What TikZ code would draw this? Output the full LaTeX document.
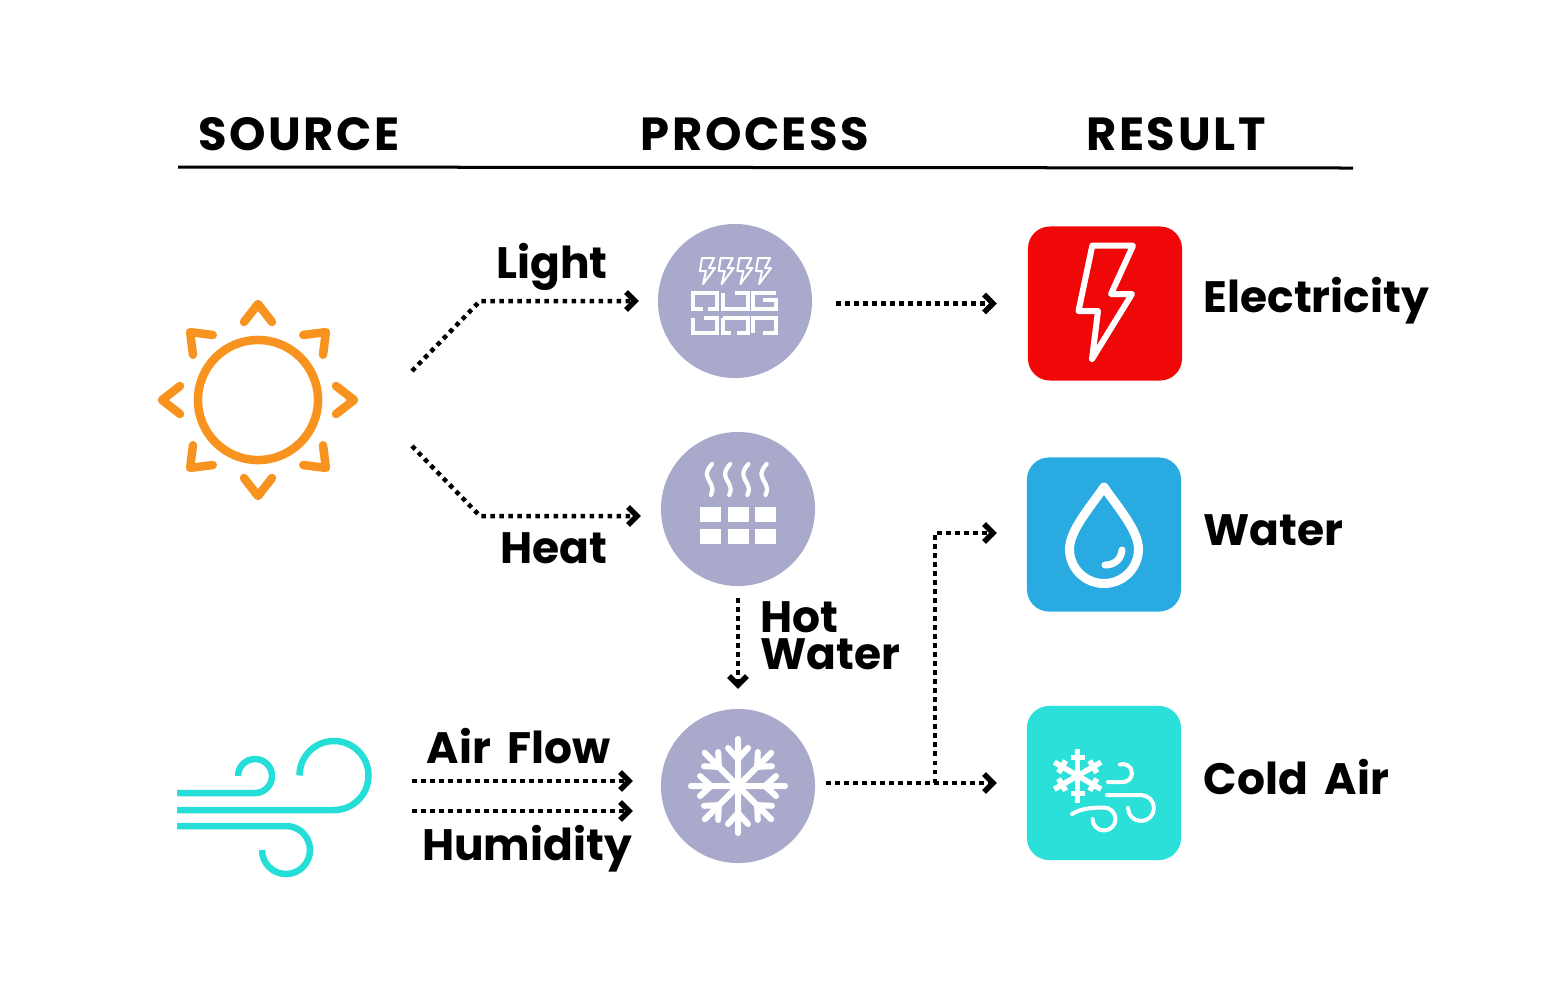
\documentclass[tikz,border=0pt]{standalone}
\usepackage{fontspec}
\setmainfont{Poppins}[WordSpace=1.8]
\newfontfamily\headfont{Poppins}[LetterSpace=5.5]
\usepackage{xcolor}
\usetikzlibrary{arrows.meta, positioning, calc}
\definecolor{procgray}{RGB}{169,170,203}
\definecolor{sunorange}{RGB}{247,147,30}
\definecolor{windteal}{RGB}{38,222,216}
\definecolor{elecred}{RGB}{240,8,8}
\definecolor{waterblue}{RGB}{41,171,226}
\definecolor{airteal}{RGB}{43,224,217}

\begin{document}
\begin{tikzpicture}[
  x=0.01cm, y=-0.01cm,
  font=\fontsize{12.5pt}{10.5pt}\selectfont\bfseries,
  every node/.style={align=left},
  proc/.style={circle, fill=procgray, minimum size=1.54cm, inner sep=0pt, outer sep=0pt},
  res/.style={rounded corners=0.22cm, fill=#1, minimum size=1.54cm, inner sep=0pt, outer sep=0pt},
  arr/.style={-{Straight Barb[length=0.09cm, width=0.18cm, line width=0.055cm]},
              line width=0.045cm, dash pattern=on 0.045cm off 0.045cm},
  head/.style={anchor=base, inner sep=0pt, font=\fontsize{13.2pt}{13.2pt}\headfont\bfseries},
  lbl/.style={anchor=base, inner sep=0pt},
  rlbl/.style={anchor=base west, inner sep=0pt},
  icon/.style={draw=white, line cap=round, line join=round, line width=#1},
  ray/.style={draw=sunorange, line width=0.085cm, line cap=round, line join=round},
  gust/.style={draw=windteal, line width=0.065cm},
]
\useasboundingbox (0,0) rectangle (1541,996);

%% Column headers
\node[head] (srchead)  at (299,150) {SOURCE};
\node[head] (prochead) at (755,150) {PROCESS};
\node[head] (reshead)  at (1176,150) {RESULT};
\draw[line width=0.03cm] (178,167) -- (1353,168);

%% Sources
\node[circle, draw=sunorange, line width=0.085cm, minimum size=1.2cm,
      inner sep=0pt, outer sep=0pt] (sun) at (258,400) {};
\foreach \a in {0,45,...,315}
  \draw[ray, shift={(258,400)}, rotate=\a] (78,-14) -- (96,0) -- (78,14);

\draw[gust] (177,793) -- (255,793) arc[start angle=90, end angle=-180, radius=17];
\draw[gust] (177,810) -- (334,810) arc[start angle=90, end angle=-180, radius=34.5];
\draw[gust] (177,826) -- (286,826) arc[start angle=-90, end angle=180, radius=24];

%% Process circles
\node[proc] (light) at (735,301) {};
\node[proc] (heat)  at (738,509) {};
\node[proc] (cold)  at (738,786) {};

% solar cell
\foreach \x in {0,18.7,37.4,56.1}
  \draw[icon=0.02cm, xshift=\x*0.01cm]
    (702,258) -- (714,258) -- (709,268) -- (715,268) -- (703,284) -- (706,271) -- (700,271) -- cycle;
\begin{scope}[icon=0.04cm, line cap=butt, line join=miter]
  \draw (703,309) -- (693,309) -- (693,293) -- (717,293) -- (717,309) -- (708,309);
  \draw (723,293) -- (723,309) -- (748,309) -- (748,293) -- (735,293);
  \draw (776,293) -- (753,293) -- (753,309) -- (776,309) -- (776,300) -- (763,300);
  \draw (693,318) -- (693,333) -- (717,333) -- (717,318) -- (704,318);
  \draw (723,318) -- (723,333) -- (731,333);
  \draw (723,318) -- (748,318) -- (748,333) -- (737,333);
  \draw (753,333) -- (753,318) -- (776,318) -- (776,333) -- (763,333);
\end{scope}

% steam and bricks
\foreach \x in {0,18.2,36.4,54.6}
  \draw[icon=0.042cm, xshift=\x*0.01cm]
    (712,464) .. controls (703,474) and (708,478) .. (711,484)
    .. controls (713,489) and (713,492) .. (711,495);
\foreach \x in {700,728,755}
  \foreach \y in {507,529}
    \fill[white] (\x,\y) rectangle ++(21,15);

% snowflake
\begin{scope}[shift={(738,786)}, icon=0.06cm]
  \foreach \a in {0,45,...,315}
    \draw[rotate=\a] (0,0) -- (47,0) (27,0) -- (38,-10) (27,0) -- (38,10);
\end{scope}

%% Results
\node[res=elecred]   (elec)    at (1105,303.5) {};
\node[res=waterblue] (water)   at (1104,534.5) {};
\node[res=airteal]   (coldair) at (1104,783) {};

\draw[icon=0.06cm] (1092.3,245.7) -- (1133,245.7) -- (1111,294) -- (1132,294)
  -- (1092,359) -- (1098,311) -- (1078.5,311) -- cycle;

\draw[icon=0.09cm] (1104,487) .. controls (1092,505) and (1069.5,530) .. (1069.5,549)
  arc[start angle=180, end angle=0, radius=34.5]
  .. controls (1138.5,530) and (1116,505) .. cycle;
\draw[icon=0.07cm] (1105,565) .. controls (1114,565) and (1121,560) .. (1122,550);

\begin{scope}[shift={(1077.7,775.7)}, icon=0.055cm, line cap=butt]
  \foreach \a in {30,90,...,330}
    \draw[rotate=\a] (0,0) -- (27,0) (18,-7) -- (18,7);
\end{scope}
\begin{scope}[icon=0.04cm]
  \draw (1108,782) -- (1123,782) arc[start angle=90, end angle=-110, radius=9];
  \draw (1107,795) -- (1141,795) arc[start angle=-90, end angle=180, radius=13];
  \draw (1072,814) .. controls (1080,809) and (1090,807.5) .. (1104,807.5)
    arc[start angle=-90, end angle=180, radius=11.5];
\end{scope}

%% Connector ends and bends
\coordinate (lightstart) at (412,371);
\coordinate (lightbend)  at (480,301);
\coordinate (heatstart)  at (412,446);
\coordinate (heatbend)   at (480,516);
\coordinate (airstart)   at (412,781);
\coordinate (humstart)   at (412,811);
\coordinate (coldsplit)  at (935,783);
\coordinate (coldbend)   at (935,533);

%% Arrows
\draw[arr, shorten >=0.19cm] (lightstart) -- (lightbend) -- (light);
\draw[arr, shorten >=0.2cm] (heatstart) -- (heatbend) -- (heat.west |- heatbend);
\draw[arr, shorten <=0.24cm, shorten >=0.31cm] (light.east |- elec.west) -- (elec.west);
\draw[arr, shorten <=0.12cm, shorten >=0.2cm] (heat.south) -- (cold.north);
\draw[arr, shorten >=0.28cm] (airstart) -- (cold.west |- airstart);
\draw[arr, shorten >=0.28cm] (humstart) -- (cold.west |- humstart);
\draw[arr, shorten <=0.11cm, shorten >=0.3cm] (cold.east |- coldair.west) -- (coldair.west);
\draw[arr, shorten >=0.3cm] (coldsplit) -- (coldbend) -- (water.west |- coldbend);

%% Labels
\node[lbl] (lightlbl) at (552,278) {Light};
\node[lbl] (heatlbl)  at (554,563) {Heat};
\node[anchor=west, inner sep=0pt] (hotlbl) at (760,636) {Hot\\Water};
\node[lbl] (airlbl)   at (519,763) {Air Flow};
\node[lbl] (humlbl)   at (527,860) {Humidity};
\node[rlbl] (eleclbl)  at (1203,312) {Electricity};
\node[rlbl] (waterlbl) at (1203,545) {Water};
\node[rlbl] (airreslbl) at (1203,794) {Cold Air};

\end{tikzpicture}
\end{document}
